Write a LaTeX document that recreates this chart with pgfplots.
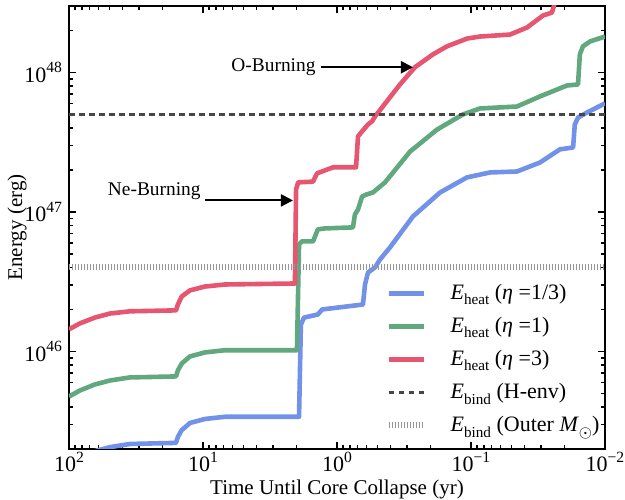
\documentclass[border=0pt]{standalone}
\usepackage{fontspec}
\setmainfont{Liberation Serif}
\usepackage{pgfplots}
\pgfplotsset{compat=1.18}
\usetikzlibrary{arrows.meta}
\definecolor{cblue}{RGB}{114,146,234}
\definecolor{cgreen}{RGB}{98,168,126}
\definecolor{cred}{RGB}{230,86,112}
\definecolor{cdash}{RGB}{70,70,70}
\definecolor{cdot}{RGB}{150,150,150}
\newcommand\kfont{\fontsize{11}{13}\selectfont}
\newcommand\tfont{\fontsize{10.5}{12.5}\selectfont}
\newcommand\lfont{\fontsize{11}{13.5}\selectfont}
\newcommand\afont{\fontsize{9.7}{11.5}\selectfont}
\newcommand\sub[1]{\raisebox{-0.25em}{\fontsize{7.6}{9}\selectfont #1}}
\newcommand\sups[1]{\raisebox{0.42em}{\fontsize{7.8}{9}\selectfont #1}}
\begin{document}
\begin{tikzpicture}
\begin{axis}[
  at={(0,0)}, anchor=south west,
  scale only axis, width=268pt, height=221.5pt,
  xmode=log, ymode=log, x dir=reverse,
  xmin=0.01, xmax=100, ymin=2e45, ymax=3e48,
  xtick={0.01,0.1,1,10,100},
  xticklabels={10\sups{−2},10\sups{−1},10\sups{0},10\sups{1},10\sups{2}},
  minor xtick={0.02,0.03,0.04,0.05,0.06,0.07,0.08,0.09,0.2,0.3,0.4,0.5,0.6,0.7,0.8,0.9,2,3,4,5,6,7,8,9,20,30,40,50,60,70,80,90},
  ytick={1e46,1e47,1e48},
  yticklabels={10\sups{46},10\sups{47},10\sups{48}},
  minor ytick={3e45,4e45,5e45,6e45,7e45,8e45,9e45,2e46,3e46,4e46,5e46,6e46,7e46,8e46,9e46,2e47,3e47,4e47,5e47,6e47,7e47,8e47,9e47,2e48,3e48},
  tick align=inside,
  major tick length=3.5pt, minor tick length=2pt,
  every tick/.style={black, line width=0.7pt},
  axis line style={line width=1pt},
  tick label style={font=\kfont},
  xticklabel style={inner sep=1pt, yshift=-0.5pt},
  label style={font=\tfont},
  xlabel={Time Until Core Collapse (yr)},
  ylabel={Energy (erg)},
  xlabel style={at={(axis description cs:0.5,-0.091)}, anchor=center, inner sep=0pt},
  ylabel style={at={(axis description cs:-0.097,0.5)}, anchor=center, inner sep=0pt},
  legend style={at={(0.59,0.382)}, anchor=north west, draw=none, fill=none,
    inner sep=0pt, row sep=3.4pt, column sep=10pt, font=\lfont},
  legend cell align=left,
  legend image code/.code={\draw[#1] (0pt,0pt) -- (17.5pt,0pt);},
]
\addplot[cblue, line width=2.3pt, line join=round] coordinates {
(100,1.58e45) (82.8,1.75e45) (64.0,1.93e45) (49.4,2.06e45) (35.1,2.17e45) (15.9,2.21e45)
(15.4,2.44e45) (14.4,2.73e45) (12.5,3.07e45) (9.66,3.28e45) (6.85,3.40e45) (1.92,3.40e45)
(1.86,1.56e46) (1.76,1.75e46) (1.39,1.84e46) (1.29,2.00e46) (0.640,2.17e46) (0.618,3.02e46)
(0.587,3.68e46) (0.520,4.00e46) (0.478,4.56e46) (0.402,5.57e46) (0.271,9.29e46) (0.170,1.38e47)
(0.107,1.77e47) (0.0721,1.92e47) (0.0454,1.95e47) (0.0306,2.26e47) (0.0217,2.81e47) (0.0173,2.90e47)
(0.0168,4.24e47) (0.0159,4.75e47) (0.0136,5.17e47) (0.01,6.00e47)
};
\addlegendentry{\textit{E}\sub{heat} (\textit{η} =1/3)}
\addplot[cgreen, line width=2.3pt, line join=round] coordinates {
(100,4.75e45) (82.8,5.25e45) (64.0,5.80e45) (49.4,6.19e45) (35.1,6.51e45) (15.9,6.62e45)
(15.4,7.31e45) (14.4,8.20e45) (12.5,9.21e45) (9.66,9.84e45) (6.85,1.02e46) (1.99,1.02e46)
(1.92,5.85e46) (1.83,6.15e46) (1.51,6.15e46) (1.39,7.50e46) (1.23,7.62e46) (0.760,7.75e46)
(0.735,9.60e46) (0.697,1.04e47) (0.650,1.29e47) (0.608,1.33e47) (0.539,1.38e47) (0.438,1.63e47)
(0.285,2.71e47) (0.179,3.90e47) (0.115,5.00e47) (0.0857,5.52e47) (0.0454,5.70e47) (0.0306,6.73e47)
(0.0192,8.07e47) (0.0159,8.20e47) (0.0154,1.35e48) (0.0146,1.54e48) (0.0129,1.67e48) (0.01,1.81e48)
};
\addlegendentry{\textit{E}\sub{heat} (\textit{η} =1)}
\addplot[cred, line width=2.3pt, line join=round] coordinates {
(100,1.44e46) (82.8,1.59e46) (64.0,1.75e46) (49.4,1.87e46) (35.1,1.94e46) (15.9,1.97e46)
(15.4,2.17e46) (14.4,2.48e46) (12.5,2.74e46) (9.66,2.92e46) (6.85,3.02e46) (2.06,3.07e46)
(2.02,1.45e47) (1.95,1.63e47) (1.51,1.65e47) (1.41,1.89e47) (1.07,2.09e47) (0.721,2.09e47)
(0.697,3.48e47) (0.650,3.78e47) (0.587,4.24e47) (0.548,4.46e47) (0.520,4.84e47) (0.461,5.61e47)
(0.339,8.20e47) (0.262,1.09e48) (0.192,1.35e48) (0.151,1.54e48) (0.107,1.75e48) (0.0857,1.81e48)
(0.0512,1.87e48) (0.0382,2.10e48) (0.0290,2.56e48) (0.0249,2.69e48) (0.0236,3.17e48)
};
\addlegendentry{\textit{E}\sub{heat} (\textit{η} =3)}
\addplot[cdash, line width=1.7pt, dash pattern=on 2.8pt off 2.2pt] coordinates {(100,5e47) (0.01,5e47)};
\addlegendentry{\textit{E}\sub{bind} (H-env)}
\addplot[cdot, line width=3pt, dash pattern=on 0.5pt off 1pt] coordinates {(100,4e46) (0.01,4e46)};
\addlegendentry{\textit{E}\sub{bind} (Outer \textit{M}\sub{$\odot$})}
\draw[black, line width=1pt, -{Triangle[length=6pt,width=6pt]}] (axis cs:9.66,1.21e47) -- (axis cs:2.13,1.21e47);
\node[anchor=east, font=\afont, inner sep=0pt] at (axis cs:10.35,1.40e47) {Ne-Burning};
\draw[black, line width=1pt, -{Triangle[length=6pt,width=6pt]}] (axis cs:1.315,1.09e48) -- (axis cs:0.271,1.09e48);
\node[anchor=east, font=\afont, inner sep=0pt] at (axis cs:1.436,1.09e48) {O-Burning};
\end{axis}
\pgfresetboundingbox
\path[use as bounding box] (-34.5pt,-25pt) rectangle (278pt,224.5pt);
\end{tikzpicture}
\end{document}
